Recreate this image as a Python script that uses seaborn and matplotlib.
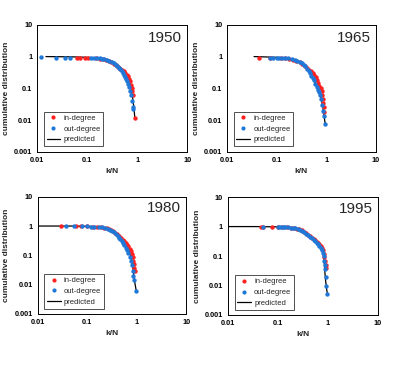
import matplotlib
matplotlib.use("Agg")
import matplotlib.pyplot as plt
import seaborn as sns
from matplotlib.lines import Line2D

sns.set_style("white")
plt.rcParams['font.family'] = ['Liberation Sans', 'DejaVu Sans']

years = ["1950", "1965", "1980", "1995"]

# ---- 1950 ----
in_x_1950 = [0.062, 0.072, 0.091, 0.106, 0.15, 0.18, 0.21, 0.24, 0.27, 0.3, 0.34, 0.38, 0.42, 0.46, 0.5, 0.54, 0.58, 0.62, 0.66, 0.7, 0.73, 0.76, 0.78, 0.8, 0.82, 0.9]
in_y_1950 = [0.89, 0.89, 0.88, 0.88, 0.88, 0.85, 0.81, 0.77, 0.72, 0.67, 0.6, 0.54, 0.48, 0.42, 0.38, 0.34, 0.3, 0.27, 0.24, 0.2, 0.17, 0.13, 0.1, 0.08, 0.06, 0.012]
out_x_1950 = [0.012, 0.024, 0.036, 0.046, 0.12, 0.14, 0.16, 0.18, 0.2, 0.22, 0.25, 0.28, 0.31, 0.34, 0.37, 0.4, 0.43, 0.46, 0.49, 0.52, 0.55, 0.58, 0.61, 0.64, 0.67, 0.7, 0.73, 0.76, 0.79, 0.82, 0.84]
out_y_1950 = [1.0, 0.92, 0.91, 0.9, 0.9, 0.9, 0.89, 0.87, 0.85, 0.82, 0.78, 0.73, 0.68, 0.62, 0.56, 0.5, 0.45, 0.4, 0.35, 0.3, 0.26, 0.23, 0.2, 0.17, 0.14, 0.11, 0.08, 0.06, 0.04, 0.025, 0.022]
pred_x_1950 = [0.015, 0.05, 0.1, 0.15, 0.2, 0.25, 0.3, 0.35, 0.4, 0.45, 0.5, 0.55, 0.6, 0.65, 0.7, 0.75, 0.8, 0.85, 0.9]
pred_y_1950 = [1, 0.98, 0.95, 0.92, 0.87, 0.8, 0.72, 0.64, 0.56, 0.48, 0.41, 0.34, 0.28, 0.22, 0.16, 0.11, 0.06, 0.03, 0.012]

# ---- 1965 ----
in_x_1965 = [0.044, 0.074, 0.12, 0.15, 0.18, 0.21, 0.25, 0.29, 0.33, 0.37, 0.41, 0.45, 0.49, 0.53, 0.57, 0.61, 0.65, 0.69, 0.73, 0.77, 0.81, 0.84, 0.87, 0.88, 0.89, 0.9]
in_y_1965 = [0.93, 0.93, 0.9, 0.88, 0.85, 0.8, 0.74, 0.67, 0.6, 0.52, 0.45, 0.39, 0.34, 0.3, 0.26, 0.22, 0.18, 0.15, 0.12, 0.1, 0.08, 0.06, 0.045, 0.035, 0.025, 0.018]
out_x_1965 = [0.075, 0.085, 0.1, 0.11, 0.13, 0.15, 0.17, 0.2, 0.23, 0.26, 0.29, 0.32, 0.35, 0.38, 0.41, 0.44, 0.47, 0.5, 0.53, 0.56, 0.6, 0.64, 0.68, 0.72, 0.76, 0.8, 0.84, 0.87, 0.89, 0.95]
out_y_1965 = [0.93, 0.93, 0.92, 0.92, 0.91, 0.9, 0.88, 0.85, 0.8, 0.75, 0.69, 0.63, 0.56, 0.49, 0.42, 0.36, 0.3, 0.25, 0.21, 0.18, 0.14, 0.11, 0.09, 0.075, 0.06, 0.045, 0.03, 0.02, 0.013, 0.0078]
pred_x_1965 = [0.035, 0.1, 0.15, 0.2, 0.25, 0.3, 0.35, 0.4, 0.45, 0.5, 0.55, 0.6, 0.65, 0.7, 0.75, 0.8, 0.85, 0.9, 0.95]
pred_y_1965 = [1, 0.95, 0.9, 0.83, 0.75, 0.65, 0.55, 0.45, 0.36, 0.27, 0.19, 0.15, 0.115, 0.09, 0.07, 0.045, 0.027, 0.014, 0.0078]

# ---- 1980 ----
in_x_1980 = [0.03, 0.06, 0.075, 0.1, 0.13, 0.16, 0.19, 0.22, 0.25, 0.28, 0.31, 0.34, 0.37, 0.4, 0.44, 0.48, 0.52, 0.56, 0.6, 0.64, 0.68, 0.72, 0.76, 0.8, 0.83, 0.86, 0.88, 0.9, 0.92]
in_y_1980 = [1, 0.98, 0.98, 0.97, 0.95, 0.94, 0.92, 0.89, 0.85, 0.8, 0.74, 0.67, 0.6, 0.53, 0.46, 0.39, 0.34, 0.3, 0.26, 0.23, 0.2, 0.17, 0.14, 0.11, 0.085, 0.065, 0.05, 0.036, 0.03]
out_x_1980 = [0.037, 0.054, 0.08, 0.1, 0.12, 0.14, 0.17, 0.2, 0.23, 0.26, 0.29, 0.32, 0.35, 0.38, 0.41, 0.44, 0.47, 0.5, 0.53, 0.56, 0.6, 0.64, 0.68, 0.72, 0.76, 0.8, 0.83, 0.86, 0.88, 0.98]
out_y_1980 = [1, 0.99, 0.98, 0.97, 0.96, 0.95, 0.93, 0.9, 0.86, 0.81, 0.75, 0.68, 0.61, 0.53, 0.46, 0.4, 0.35, 0.3, 0.26, 0.22, 0.18, 0.15, 0.12, 0.09, 0.065, 0.045, 0.03, 0.02, 0.014, 0.006]
pred_x_1980 = [0.01, 0.05, 0.1, 0.15, 0.2, 0.25, 0.3, 0.35, 0.4, 0.45, 0.5, 0.55, 0.6, 0.65, 0.7, 0.75, 0.8, 0.85, 0.88, 0.9, 0.94, 0.98]
pred_y_1980 = [1, 1, 0.98, 0.96, 0.92, 0.85, 0.7, 0.58, 0.48, 0.4, 0.33, 0.27, 0.22, 0.18, 0.14, 0.1, 0.065, 0.03, 0.02, 0.014, 0.009, 0.006]

# ---- 1995 ----
in_x_1995 = [0.046, 0.05, 0.076, 0.1, 0.12, 0.15, 0.18, 0.21, 0.24, 0.27, 0.3, 0.33, 0.36, 0.4, 0.44, 0.48, 0.52, 0.56, 0.6, 0.64, 0.68, 0.72, 0.76, 0.8, 0.83, 0.85, 0.87, 0.9, 0.92]
in_y_1995 = [0.95, 0.95, 0.95, 0.95, 0.95, 0.95, 0.93, 0.9, 0.86, 0.8, 0.74, 0.67, 0.6, 0.53, 0.47, 0.42, 0.39, 0.35, 0.31, 0.28, 0.25, 0.22, 0.19, 0.16, 0.12, 0.09, 0.07, 0.05, 0.04]
out_x_1995 = [0.05, 0.1, 0.11, 0.12, 0.13, 0.14, 0.16, 0.18, 0.2, 0.22, 0.25, 0.28, 0.31, 0.34, 0.37, 0.4, 0.44, 0.48, 0.52, 0.56, 0.6, 0.64, 0.68, 0.72, 0.76, 0.8, 0.83, 0.85, 0.87, 0.88, 0.9, 0.92, 0.98]
out_y_1995 = [0.95, 0.95, 0.95, 0.95, 0.95, 0.95, 0.94, 0.93, 0.92, 0.9, 0.85, 0.78, 0.7, 0.63, 0.56, 0.5, 0.44, 0.4, 0.36, 0.32, 0.28, 0.25, 0.22, 0.19, 0.16, 0.13, 0.1, 0.07, 0.05, 0.035, 0.02, 0.01, 0.0052]
pred_x_1995 = [0.01, 0.035, 0.1, 0.15, 0.2, 0.25, 0.3, 0.35, 0.4, 0.45, 0.5, 0.55, 0.6, 0.65, 0.7, 0.75, 0.8, 0.84, 0.87, 0.9, 0.94, 0.98]
pred_y_1995 = [1, 1, 0.98, 0.96, 0.92, 0.85, 0.74, 0.62, 0.52, 0.45, 0.4, 0.35, 0.3, 0.26, 0.22, 0.18, 0.14, 0.08, 0.03, 0.015, 0.008, 0.0052]

y_tick_vals = [0.001, 0.01, 0.1, 1, 10]
y_tick_labels = ["0.001", "0.01", "0.1", "1", "10"]
x_tick_vals = [0.01, 0.1, 1, 10]
x_tick_labels = ["0.01", "0.1", "1", "10"]

panels = [
    (in_x_1950, in_y_1950, out_x_1950, out_y_1950, pred_x_1950, pred_y_1950),
    (in_x_1965, in_y_1965, out_x_1965, out_y_1965, pred_x_1965, pred_y_1965),
    (in_x_1980, in_y_1980, out_x_1980, out_y_1980, pred_x_1980, pred_y_1980),
    (in_x_1995, in_y_1995, out_x_1995, out_y_1995, pred_x_1995, pred_y_1995),
]

positions = [
    [0.093, 0.584, 0.376, 0.348],
    [0.569, 0.584, 0.373, 0.348],
    [0.094, 0.140, 0.373, 0.321],
    [0.571, 0.137, 0.376, 0.323],
]

RED = "#ff2020"
BLUE = "#1f78d8"

fig = plt.figure(figsize=(3.99, 3.65), dpi=100)
fig.patch.set_facecolor("white")

for yr, data, pos in zip(years, panels, positions):
    ix, iy, ox, oy, px, py = data
    ax = fig.add_axes(pos)
    sns.lineplot(x=px, y=py, ax=ax, color="black", linewidth=0.9, sort=False, estimator=None)
    sns.scatterplot(x=ix, y=iy, ax=ax, color=RED, s=10, linewidth=0, zorder=3)
    sns.scatterplot(x=ox, y=oy, ax=ax, color=BLUE, s=10, linewidth=0, zorder=4)
    ax.set_xscale("log")
    ax.set_yscale("log")
    ax.set_xlim(0.01, 10)
    ax.set_ylim(0.001, 10)
    ax.set_xticks(x_tick_vals)
    ax.set_xticklabels(x_tick_labels, fontsize=5.3, fontweight="bold")
    ax.set_yticks(y_tick_vals)
    ax.set_yticklabels(y_tick_labels, fontsize=5.3, fontweight="bold")
    ax.minorticks_off()
    ax.tick_params(axis="both", which="major", direction="out", length=2, width=0.6, pad=1.5, colors="black")
    for s in ax.spines.values():
        s.set_color("black")
        s.set_linewidth(0.7)
    ax.set_xlabel("k/N", fontsize=6, fontweight="bold", labelpad=3)
    ax.set_ylabel("cumulative distribution", fontsize=6, fontweight="bold", labelpad=3)
    ax.text(0.965, 0.9, yr, transform=ax.transAxes, ha="right", va="center", fontsize=11)
    handles = [
        Line2D([0], [0], marker="o", color="none", markerfacecolor=RED, markeredgecolor="none", markersize=3),
        Line2D([0], [0], marker="o", color="none", markerfacecolor=BLUE, markeredgecolor="none", markersize=3),
        Line2D([0], [0], color="black", linewidth=0.9),
    ]
    leg = ax.legend(handles, ["in-degree", "out-degree", "predicted"], loc="lower left",
                    bbox_to_anchor=(0.045, 0.045), fontsize=5.5, frameon=True, fancybox=False,
                    handlelength=1.8, handletextpad=0.4, borderpad=0.35, labelspacing=0.45,
                    borderaxespad=0)
    leg.get_frame().set_edgecolor("black")
    leg.get_frame().set_linewidth(0.6)

fig.savefig("out.png", dpi=100, facecolor="white")
